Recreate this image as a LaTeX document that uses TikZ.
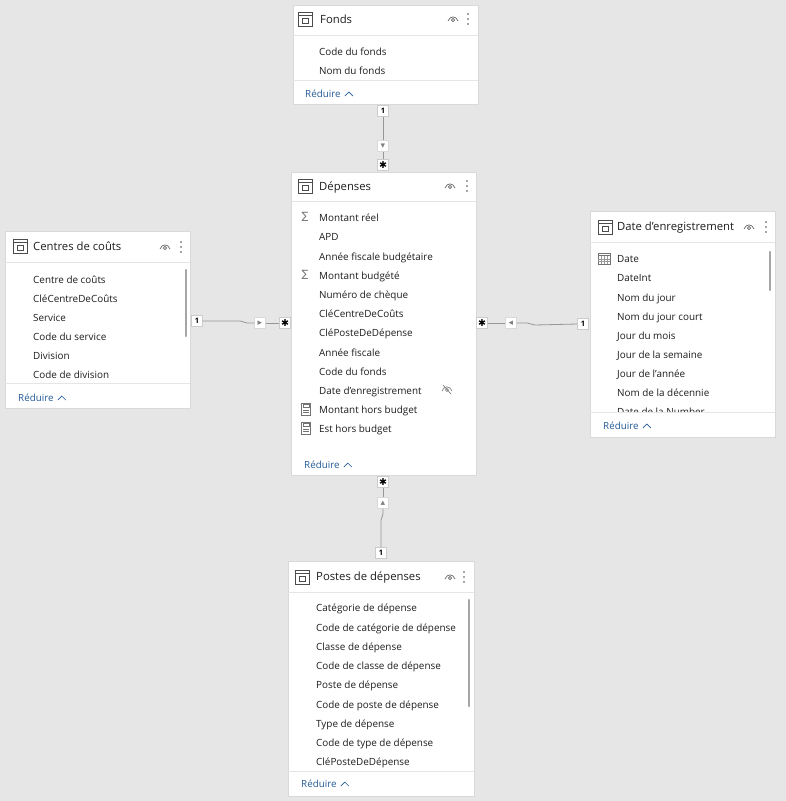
\documentclass[tikz,border=0pt]{standalone}
\usepackage{fontspec}
\setmainfont{Open Sans}
\newfontfamily\symfont{DejaVu Sans}
\usetikzlibrary{shadows}
\definecolor{bggray}{RGB}{230,230,230}
\definecolor{linkblue}{RGB}{35,90,150}
\definecolor{edgegray}{RGB}{150,150,150}
\definecolor{inkgray}{RGB}{30,30,30}
\tikzset{
	card/.style 2 args={draw=black!15,fill=white,inner sep=0,outer sep=0,anchor=north west,minimum width=#1,minimum height=#2,drop shadow={opacity=0.12,shadow xshift=0.6pt,shadow yshift=-1pt}},
	title/.style={anchor=west,inner sep=0,text=inkgray,font=\fontsize{11.3}{13}\selectfont,text height=9.5pt,text depth=0pt},
	item/.style={anchor=west,inner sep=0,text=inkgray,font=\fontsize{9.9}{11}\selectfont,text height=9pt,text depth=0pt},
	reduire/.style={anchor=west,inner sep=0,text=linkblue,font=\fontsize{9.8}{11}\selectfont,text height=9pt,text depth=0pt},
	badge/.style={draw=black!20,fill=white,inner sep=1pt,minimum size=11pt,font=\fontsize{7.5}{8}\selectfont\bfseries},
	starbadge/.style={draw=black!20,fill=white,inner sep=1pt,minimum size=11pt,font=\symfont\fontsize{9.5}{10}\selectfont},
	mkbox/.style={draw=black!15,fill=white,inner sep=0,minimum size=11pt,text=black!50,font=\symfont\fontsize{9}{9}\selectfont},
	sym/.style={inner sep=0,text=black!55,font=\symfont\fontsize{10}{10}\selectfont},
	conn/.style={draw=edgegray,line width=0.8pt},
	sep/.style={draw=black!10,line width=0.6pt},
	scroll/.style={draw=black!35,line width=2.2pt,line cap=round},
	tblicon/.pic={
		\draw[black!70,line width=0.9pt] (-7,-7) rectangle (7,7);
		\draw[black!70,line width=0.7pt] (-7,-3.5) -- (7,-3.5);
		\draw[black!70,line width=0.7pt] (-3,-0.5) rectangle (3,4);
	},
	eye/.pic={
		\draw[black!60,line width=0.7pt] (-5,2) .. controls (-3,-3.5) and (3,-3.5) .. (5,2);
		\draw[black!60,line width=0.6pt] (0,1) circle (1.6pt);
	},
	hiddeneye/.pic={
		\draw[black!55,line width=0.6pt] (-5,2) .. controls (-3,-3.5) and (3,-3.5) .. (5,2);
		\draw[black!55,line width=0.6pt] (0,1) circle (1.5pt);
		\draw[black!55,line width=0.6pt] (-4,-4) -- (4,5);
	},
	dots/.pic={
		\fill[black!70] (0,-5) circle (0.9pt) (0,0) circle (0.9pt) (0,5) circle (0.9pt);
	},
	chev/.pic={
		\draw[linkblue,line width=0.7pt] (-4,2) -- (0,-2) -- (4,2);
	},
	calc/.pic={
		\draw[black!55,line width=0.6pt] (-4.5,-6) rectangle (4.5,6);
		\draw[black!55,line width=0.5pt] (-3,-4.5) rectangle (3,-1.5);
		\draw[black!55,line width=0.5pt] (-3,1) -- (3,1) (-3,3.5) -- (3,3.5);
	},
	calendar/.pic={
		\draw[black!55,line width=0.6pt] (-6,-5) rectangle (6,6);
		\draw[black!55,line width=0.6pt] (-6,-2.5) -- (6,-2.5);
		\draw[black!40,line width=0.4pt] (-6,1) -- (6,1) (-6,3.5) -- (6,3.5) (-3,-2.5) -- (-3,6) (0,-2.5) -- (0,6) (3,-2.5) -- (3,6);
	}
}

\begin{document}
\begin{tikzpicture}[x=1pt,y=-1pt]
	\useasboundingbox (0,0) rectangle (786,801);
	\fill[bggray] (0,0) rectangle (786,801);

	% Fonds
	\node [card={185pt}{99pt}] (fonds) at (293,5) {};
	\draw[sep] (293,35) -- (478,35);
	\draw[sep] (293,80) -- (478,80);
	\pic at (305,19) {tblicon};
	\node [title] (fondsT) at (320,19) {Fonds};
	\pic at (453,19) {eye};
	\pic at (468,19) {dots};
	\node [item] (fo1) at (319,51) {Code du fonds};
	\node [item] (fo2) at (319,70) {Nom du fonds};
	\node [reduire] (foR) at (305,93) {Réduire};
	\pic at ([xshift=8pt,yshift=-1pt]foR.east) {chev};

	% Dépenses
	\node [card={185pt}{303pt}] (dep) at (291,172) {};
	\draw[sep] (291,201) -- (476,201);
	\pic at (305,186) {tblicon};
	\node [title] (depT) at (319,186) {Dépenses};
	\pic at (450,186) {eye};
	\pic at (467,186) {dots};
	\node [sym] at (305,217) {∑};
	\node [item] (de1) at (319,217) {Montant réel};
	\node [item] (de2) at (319,236) {APD};
	\node [item] (de3) at (319,256) {Année fiscale budgétaire};
	\node [sym] at (305,275) {∑};
	\node [item] (de4) at (319,275) {Montant budgété};
	\node [item] (de5) at (319,294) {Numéro de chèque};
	\node [item] (de6) at (319,313) {CléCentreDeCoûts};
	\node [item] (de7) at (319,332) {CléPosteDeDépense};
	\node [item] (de8) at (319,352) {Année fiscale};
	\node [item] (de9) at (319,371) {Code du fonds};
	\node [item] (de10) at (319,390) {Date d'enregistrement};
	\pic at (447,389) {hiddeneye};
	\pic at (306,409) {calc};
	\node [item] (de11) at (319,409) {Montant hors budget};
	\pic at (306,428) {calc};
	\node [item] (de12) at (319,428) {Est hors budget};
	\node [reduire] (deR) at (304,464) {Réduire};
	\pic at ([xshift=8pt,yshift=-1pt]deR.east) {chev};

	% Centres de coûts
	\node [card={185pt}{177pt}] (centres) at (5,231) {};
	\draw[sep] (5,262) -- (190,262);
	\draw[sep] (5,383) -- (190,383);
	\pic at (20,246) {tblicon};
	\node [title] (ceT) at (33,246) {Centres de coûts};
	\pic at (165,247) {eye};
	\pic at (181,247) {dots};
	\draw[scroll] (186,270) -- (186,336);
	\node [item] (ce1) at (33,279) {Centre de coûts};
	\node [item] (ce2) at (33,298) {CléCentreDeCoûts};
	\node [item] (ce3) at (33,317) {Service};
	\node [item] (ce4) at (33,336) {Code du service};
	\node [item] (ce5) at (33,355) {Division};
	\node [item] (ce6) at (33,374) {Code de division};
	\node [reduire] (ceR) at (18,397) {Réduire};
	\pic at ([xshift=8pt,yshift=-1pt]ceR.east) {chev};

	% Date d'enregistrement
	\node [card={185pt}{226pt}] (date) at (590,211) {};
	\draw[sep] (590,242) -- (775,242);
	\draw[sep] (590,412) -- (775,412);
	\pic at (605,227) {tblicon};
	\node [title] (daT) at (617,226) {Date d'enregistrement};
	\pic at (749,227) {eye};
	\pic at (766,227) {dots};
	\draw[scroll] (770,252) -- (770,290);
	\pic at (604,258) {calendar};
	\node [item] (da1) at (617,258) {Date};
	\node [item] (da2) at (617,277) {DateInt};
	\node [item] (da3) at (617,297) {Nom du jour};
	\node [item] (da4) at (617,316) {Nom du jour court};
	\node [item] (da5) at (617,335) {Jour du mois};
	\node [item] (da6) at (617,354) {Jour de la semaine};
	\node [item] (da7) at (617,373) {Jour de l'année};
	\node [item] (da8) at (617,392) {Nom de la décennie};
	\begin{scope}
		\clip (590,243) rectangle (765,411);
		\node [item] (da9) at (617,411) {Date de la Number};
	\end{scope}
	\node [reduire] (daR) at (603,425) {Réduire};
	\pic at ([xshift=8pt,yshift=-1pt]daR.east) {chev};

	% Postes de dépenses
	\node [card={186pt}{235pt}] (postes) at (288,561) {};
	\draw[sep] (288,592) -- (474,592);
	\draw[sep] (288,771) -- (474,771);
	\pic at (302,577) {tblicon};
	\node [title] (poT) at (316,576) {Postes de dépenses};
	\pic at (450,577) {eye};
	\pic at (464,577) {dots};
	\draw[scroll] (469,600) -- (469,706);
	\node [item] (po1) at (316,607) {Catégorie de dépense};
	\node [item] (po2) at (316,627) {Code de catégorie de dépense};
	\node [item] (po3) at (316,646) {Classe de dépense};
	\node [item] (po4) at (316,665) {Code de classe de dépense};
	\node [item] (po5) at (316,684) {Poste de dépense};
	\node [item] (po6) at (316,704) {Code de poste de dépense};
	\node [item] (po7) at (316,723) {Type de dépense};
	\node [item] (po8) at (316,742) {Code de type de dépense};
	\node [item] (po9) at (316,761) {CléPosteDeDépense};
	\node [reduire] (poR) at (301,783) {Réduire};
	\pic at ([xshift=8pt,yshift=-1pt]poR.east) {chev};

	% relations
	\node [badge] (f1) at (383,111) {1};
	\node [mkbox] (fm) at (383,146) {▾};
	\node [starbadge] (fs) at (383,165) {✱};
	\draw[conn] (f1) -- (fm);
	\draw[conn] (fm) -- (fs);

	\node [badge] (c1) at (197,321) {1};
	\node [mkbox] (cm) at (260,323) {▸};
	\node [starbadge] (cs) at (285,323) {✱};
	\draw[conn] (c1.east) -- (240,321) -- (247,323) -- (cm.west);
	\draw[conn] (cm) -- (cs);

	\node [starbadge] (ds) at (482,323) {✱};
	\node [mkbox] (dm) at (511,323) {◂};
	\node [badge] (d1) at (583,324) {1};
	\draw[conn] (ds) -- (dm);
	\draw[conn] (dm.east) -- (527,323) -- (535,325) -- (d1.west);

	\node [starbadge] (ps) at (383,482) {✱};
	\node [mkbox] (pm) at (383,503) {▴};
	\node [badge] (p1) at (381,553) {1};
	\draw[conn] (ps) -- (pm);
	\draw[conn] (pm.south) -- (383,514) -- (381,520) -- (p1.north);
\end{tikzpicture}
\end{document}
